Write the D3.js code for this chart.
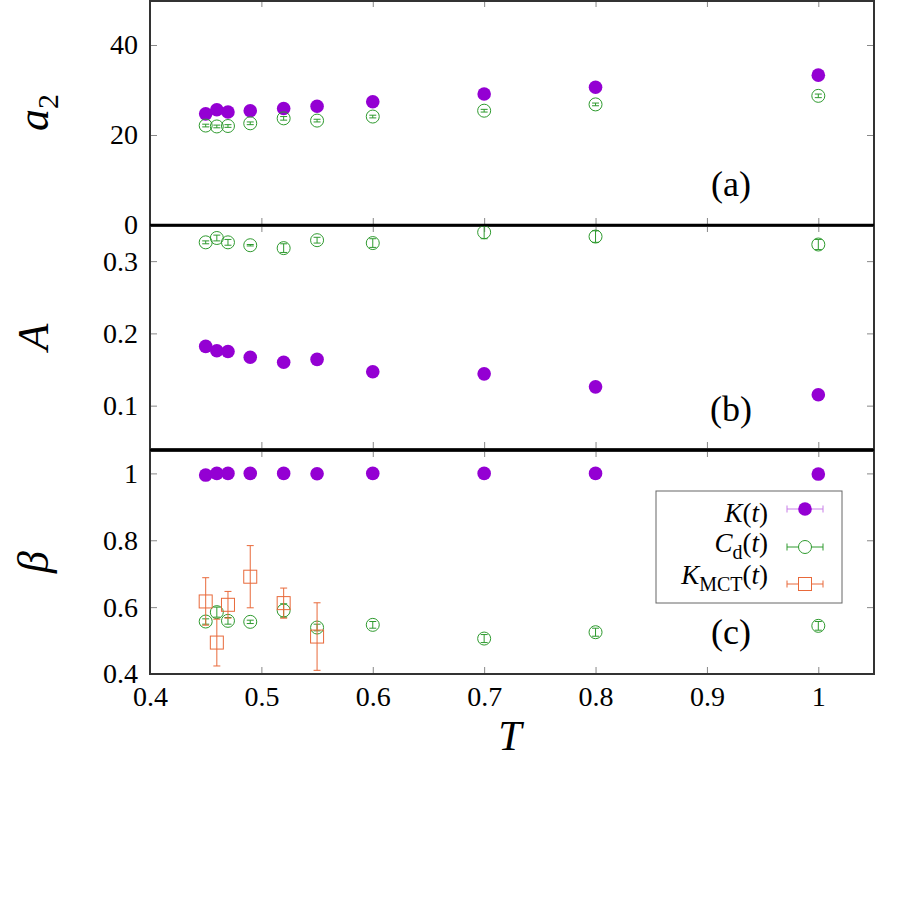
<!DOCTYPE html>
<html>
<head>
<meta charset="utf-8">
<script src="https://cdn.jsdelivr.net/npm/d3@7"></script>
<style>
  body { margin: 0; background: #fff; }
  svg { display: block; }
  svg text { font-family: "Liberation Serif", "Times New Roman", Times, serif; }
</style>
</head>
<body>
<div id="chart"></div>
<script>
// temperatures (shared x)
const temps = [0.45, 0.46, 0.47, 0.49, 0.52, 0.55, 0.6, 0.7, 0.8, 1.0];
const tempsMCT = [0.45, 0.46, 0.47, 0.49, 0.52, 0.55];

// panel (a) a2
const a2K = [24.7, 25.6, 25.1, 25.4, 25.9, 26.4, 27.4, 29.1, 30.6, 33.3];
const a2Cd = [22.1, 21.9, 22.0, 22.6, 23.7, 23.2, 24.1, 25.4, 26.8, 28.7];
const a2CdErr = [0.3, 0.3, 0.3, 0.3, 0.4, 0.3, 0.3, 0.3, 0.3, 0.4];

// panel (b) A
const AK = [0.182, 0.176, 0.175, 0.167, 0.160, 0.164, 0.147, 0.144, 0.126, 0.115];
const ACd = [0.326, 0.332, 0.326, 0.322, 0.318, 0.329, 0.325, 0.340, 0.334, 0.323];
const ACdErr = [0.002, 0.004, 0.004, 0.001, 0.006, 0.004, 0.006, 0.009, 0.008, 0.007];

// panel (c) beta
const betaK = [0.995, 1.0, 1.0, 1.0, 1.0, 0.999, 1.0, 1.0, 1.0, 0.998];
const betaCd = [0.557, 0.585, 0.559, 0.556, 0.590, 0.539, 0.547, 0.506, 0.525, 0.544];
const betaCdErr = [0.008, 0.015, 0.010, 0.005, 0.020, 0.010, 0.010, 0.012, 0.012, 0.013];
const betaMCT = [0.617, 0.494, 0.607, 0.691, 0.612, 0.512];
const betaMCTErr = [0.071, 0.070, 0.040, 0.093, 0.045, 0.101];

const xTicks = [0.4, 0.5, 0.6, 0.7, 0.8, 0.9, 1.0];

const purple = "#9400d3", green = "#2e9a2e", orange = "#e8693a";

const width = 900, height = 900;
const left = 150, right = 874;

const svg = d3.select("#chart").append("svg")
  .attr("width", width).attr("height", height);

const x = d3.scaleLinear().domain([0.4, 1.05]).range([left, right]);
const fmtTick = d => d === 1 ? "1" : d3.format(".1f")(d);

const panels = [
  { key: "a", top: 0, bottom: 225, domain: [0, 50], ticks: [0, 20, 40], fmt: d3.format("d"),
    label: "(a)", labelY: 196, axis: ["a", "2"],
    series: [
      { x: temps, y: a2K, kind: "dot" },
      { x: temps, y: a2Cd, err: a2CdErr, kind: "circle" }
    ] },
  { key: "b", top: 225, bottom: 449, domain: [0.04, 0.35], ticks: [0.1, 0.2, 0.3], fmt: d3.format(".1f"),
    label: "(b)", labelY: 421, axis: ["A"],
    series: [
      { x: temps, y: AK, kind: "dot" },
      { x: temps, y: ACd, err: ACdErr, kind: "circle" }
    ] },
  { key: "c", top: 450, bottom: 674, domain: [0.4, 1.07], ticks: [0.4, 0.6, 0.8, 1.0], fmt: fmtTick,
    label: "(c)", labelY: 644, axis: ["β"],
    series: [
      { x: temps, y: betaK, kind: "dot" },
      { x: temps, y: betaCd, err: betaCdErr, kind: "circle" },
      { x: tempsMCT, y: betaMCT, err: betaMCTErr, kind: "square" }
    ] }
];

function styleAxis(g) {
  g.select(".domain").remove();
  g.selectAll(".tick line").attr("stroke", "#888").attr("stroke-width", 1);
  g.selectAll(".tick text").attr("fill", "#000").attr("font-size", 28);
}

panels.forEach(p => {
  const y = d3.scaleLinear().domain(p.domain).range([p.bottom, p.top]);
  const g = svg.append("g");

  // y axes (left with labels, right bare)
  g.append("g").attr("transform", `translate(${left},0)`)
    .call(d3.axisLeft(y).tickValues(p.ticks).tickFormat(p.fmt).tickSizeInner(-7).tickSizeOuter(0).tickPadding(12))
    .call(styleAxis);
  g.append("g").attr("transform", `translate(${right},0)`)
    .call(d3.axisRight(y).tickValues(p.ticks).tickFormat("").tickSizeInner(-7).tickSizeOuter(0))
    .call(styleAxis);

  // x ticks top and bottom
  g.append("g").attr("transform", `translate(0,${p.top})`)
    .call(d3.axisTop(x).tickValues(xTicks).tickFormat("").tickSizeInner(-7).tickSizeOuter(0))
    .call(styleAxis);
  g.append("g").attr("transform", `translate(0,${p.bottom})`)
    .call(d3.axisBottom(x).tickValues(xTicks)
      .tickFormat(p.key === "c" ? fmtTick : "")
      .tickSizeInner(-7).tickSizeOuter(0).tickPadding(12))
    .call(styleAxis);

  // frame
  g.append("rect").attr("x", left).attr("y", p.top + 1).attr("width", right - left).attr("height", p.bottom - p.top - 1)
    .attr("fill", "none").attr("stroke", "#333").attr("stroke-width", 2);

  // y-axis label
  const lab = g.append("text")
    .attr("transform", `translate(48,${(p.top + p.bottom) / 2}) rotate(-90)`)
    .attr("text-anchor", "middle")
    .attr("font-size", 44).attr("font-style", "italic");
  lab.append("tspan").text(p.axis[0]);
  if (p.axis[1]) lab.append("tspan").attr("font-size", 30).attr("font-style", "normal").attr("dy", 10).text(p.axis[1]);

  // panel label
  g.append("text").attr("x", 731).attr("y", p.labelY).attr("text-anchor", "middle")
    .attr("font-size", 36).text(p.label);

  // series
  p.series.forEach(s => {
    const pts = s.x.map((t, i) => ({ t, v: s.y[i], e: s.err ? s.err[i] : 0 }));
    const col = s.kind === "dot" ? purple : s.kind === "circle" ? green : orange;
    const sg = g.append("g");
    if (s.err) {
      const eb = sg.selectAll("g.eb").data(pts).join("g").attr("stroke", col).attr("stroke-width", 1);
      eb.append("line").attr("x1", d => x(d.t)).attr("x2", d => x(d.t))
        .attr("y1", d => y(d.v - d.e)).attr("y2", d => y(d.v + d.e));
      eb.append("line").attr("x1", d => x(d.t) - 3.5).attr("x2", d => x(d.t) + 3.5)
        .attr("y1", d => y(d.v - d.e)).attr("y2", d => y(d.v - d.e));
      eb.append("line").attr("x1", d => x(d.t) - 3.5).attr("x2", d => x(d.t) + 3.5)
        .attr("y1", d => y(d.v + d.e)).attr("y2", d => y(d.v + d.e));
    }
    if (s.kind === "dot") {
      sg.selectAll("circle").data(pts).join("circle")
        .attr("cx", d => x(d.t)).attr("cy", d => y(d.v)).attr("r", 6.8).attr("fill", purple);
    } else if (s.kind === "circle") {
      sg.selectAll("circle").data(pts).join("circle")
        .attr("cx", d => x(d.t)).attr("cy", d => y(d.v)).attr("r", 6.5)
        .attr("fill", "none").attr("stroke", green).attr("stroke-width", 1);
    } else {
      sg.selectAll("rect.sq").data(pts).join("rect").attr("class", "sq")
        .attr("x", d => x(d.t) - 6.5).attr("y", d => y(d.v) - 6.5).attr("width", 13).attr("height", 13)
        .attr("fill", "none").attr("stroke", orange).attr("stroke-width", 1);
    }
  });
});

// separators between panels
[225, 450].forEach(yy => {
  svg.append("line").attr("x1", left).attr("x2", right).attr("y1", yy).attr("y2", yy)
    .attr("stroke", "#000").attr("stroke-width", 2.5);
});

// x label
svg.append("text").attr("x", 510).attr("y", 750).attr("text-anchor", "middle")
  .attr("font-size", 42).attr("font-style", "italic").text("T");

// legend
const legend = svg.append("g");
legend.append("rect").attr("x", 656).attr("y", 491).attr("width", 186).attr("height", 112)
  .attr("fill", "#fff").attr("stroke", "#666").attr("stroke-width", 1);

// each entry: main letter, optional subscript, then "(t)"
const legItems = [
  { main: "K", sub: null, kind: "dot", col: purple, cy: 509, base: 522 },
  { main: "C", sub: "d", kind: "circle", col: green, cy: 547, base: 552 },
  { main: "K", sub: "MCT", kind: "square", col: orange, cy: 584, base: 584 }
];
legItems.forEach(it => {
  const t = legend.append("text").attr("x", 768).attr("y", it.base).attr("text-anchor", "end").attr("font-size", 27);
  t.append("tspan").attr("font-style", "italic").text(it.main);
  if (it.sub) t.append("tspan").attr("font-size", 20).attr("dy", 7).text(it.sub);
  t.append("tspan").attr("dy", it.sub ? -7 : 0).text("(");
  t.append("tspan").attr("font-style", "italic").text("t");
  t.append("tspan").text(")");

  const lg = legend.append("g").attr("stroke", it.col).attr("stroke-width", 1)
    .attr("opacity", it.kind === "dot" ? 0.5 : 1);
  lg.append("line").attr("x1", 787).attr("x2", 823).attr("y1", it.cy).attr("y2", it.cy);
  lg.append("line").attr("x1", 787).attr("x2", 787).attr("y1", it.cy - 3.5).attr("y2", it.cy + 3.5);
  lg.append("line").attr("x1", 823).attr("x2", 823).attr("y1", it.cy - 3.5).attr("y2", it.cy + 3.5);
  if (it.kind === "dot") {
    legend.append("circle").attr("cx", 805).attr("cy", it.cy).attr("r", 6.8).attr("fill", purple);
  } else if (it.kind === "circle") {
    legend.append("circle").attr("cx", 805).attr("cy", it.cy).attr("r", 6.5)
      .attr("fill", "#fff").attr("stroke", green).attr("stroke-width", 1);
  } else {
    legend.append("rect").attr("x", 798.5).attr("y", it.cy - 6.5).attr("width", 13).attr("height", 13)
      .attr("fill", "#fff").attr("stroke", orange).attr("stroke-width", 1);
  }
});
</script>
</body>
</html>
